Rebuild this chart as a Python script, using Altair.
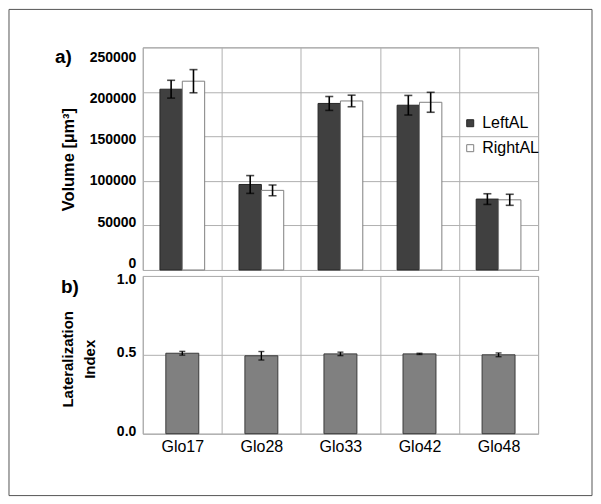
import altair as alt
import pandas as pd

glomeruli = ["Glo17", "Glo28", "Glo33", "Glo42", "Glo48"]
series = ["LeftAL", "RightAL"]
left_vol = [203000, 96000, 187000, 185000, 79600]
left_err = [10000, 10000, 7800, 11000, 6000]
right_vol = [212000, 89400, 189800, 188300, 78800]
right_err = [13000, 6000, 6500, 11200, 6200]
lat_index = [0.510, 0.494, 0.506, 0.506, 0.500]
lat_err = [0.012, 0.027, 0.011, 0.004, 0.012]
vol_ticks = [0, 50000, 100000, 150000, 200000, 250000]
li_ticks = [0.0, 0.5, 1.0]

rows = []
for i, g in enumerate(glomeruli):
    rows.append(dict(glo=g, side="LeftAL", vol=left_vol[i],
                     lo=left_vol[i] - left_err[i], hi=left_vol[i] + left_err[i]))
    rows.append(dict(glo=g, side="RightAL", vol=right_vol[i],
                     lo=right_vol[i] - right_err[i], hi=right_vol[i] + right_err[i]))
vol_df = pd.DataFrame(rows)
li_df = pd.DataFrame(dict(glo=glomeruli, li=lat_index,
                          lo=[v - e for v, e in zip(lat_index, lat_err)],
                          hi=[v + e for v, e in zip(lat_index, lat_err)]))
one = pd.DataFrame({"k": [0]})

FONT = "Liberation Sans"
GRID = "#b0b0b0"

x_top = alt.X("glo:N", sort=glomeruli, scale=alt.Scale(paddingInner=0, paddingOuter=0),
              axis=alt.Axis(labels=False, ticks=False, domain=False, title=None, grid=True,
                            tickBand="extent", gridColor=GRID))
xoff = alt.XOffset("side:N", sort=series,
                   scale=alt.Scale(domain=series, paddingInner=0, paddingOuter=0.768))
y_top = alt.Y("vol:Q", scale=alt.Scale(domain=[0, 250000], nice=False),
              axis=alt.Axis(values=vol_ticks, format="d", title="Volume [µm³]", grid=True,
                            gridColor=GRID, ticks=False, domain=False, labelPadding=7,
                            labelFontSize=14, labelFontWeight="bold", labelFont=FONT,
                            labelOffset={"expr": "-6.5 + datum.value / 250000 * 16.4"},
                            titleFontSize=16.5, titleFontWeight="bold", titleFont=FONT,
                            titleX=-74, titleY=112, titleBaseline="middle", titleAngle=270,
                            titleAlign="center"))

bars = alt.Chart(vol_df).mark_bar(strokeWidth=1).encode(
    x=x_top, xOffset=xoff, y=y_top,
    color=alt.Color("side:N", scale=alt.Scale(domain=series, range=["#404040", "#ffffff"]),
                    legend=alt.Legend(orient="none", legendX=320, legendY=68, title=None,
                                      symbolType="square", symbolSize=49, labelFontSize=16,
                                      labelFont=FONT, labelOffset=4, rowPadding=9, padding=0,
                                      symbolStrokeColor="#333333", symbolStrokeWidth=1,
                                      symbolOpacity=1)),
    stroke=alt.Stroke("side:N", scale=alt.Scale(domain=series, range=["#262626", "#808080"]),
                      legend=None),
)
err_rule = alt.Chart(vol_df).mark_rule(color="black", strokeWidth=1.6).encode(
    x=x_top, xOffset=xoff, y="lo:Q", y2="hi:Q")
cap_lo = alt.Chart(vol_df).mark_tick(color="black", thickness=1.6, size=8).encode(
    x=x_top, xOffset=xoff, y="lo:Q")
cap_hi = alt.Chart(vol_df).mark_tick(color="black", thickness=1.6, size=8).encode(
    x=x_top, xOffset=xoff, y="hi:Q")
frame = alt.Chart(one).mark_rect(fillOpacity=0, stroke="#555555", strokeWidth=1).encode(
    x=alt.value(-134), x2=alt.value(450), y=alt.value(-38), y2=alt.value(449))
label_a = alt.Chart(one).mark_text(align="left", baseline="alphabetic", fontSize=19,
                                   fontWeight="bold", font=FONT).encode(
    x=alt.value(-88), y=alt.value(16), text=alt.value("a)"))

top = alt.layer(frame, bars, err_rule, cap_lo, cap_hi, label_a).properties(width=396, height=223)

x_bot = alt.X("glo:N", sort=glomeruli, scale=alt.Scale(paddingInner=0, paddingOuter=0),
              axis=alt.Axis(labelAngle=0, ticks=False, domain=False, title=None, grid=True,
                            tickBand="extent", gridColor=GRID, labelFontSize=16, labelFont=FONT,
                            labelPadding=5, labelColor="black"))
y_bot = alt.Y("li:Q", scale=alt.Scale(domain=[0, 1], nice=False),
              axis=alt.Axis(values=li_ticks, format=".1f", title=["Lateralization", "Index"],
                            grid=True, gridColor=GRID, ticks=False, domain=False, labelPadding=7,
                            labelFontSize=14, labelFontWeight="bold", labelFont=FONT,
                            labelOffset={"expr": "datum.value == 1 ? 4 : -2"},
                            titleFontSize=15, titleFontWeight="bold", titleFont=FONT,
                            titleLineHeight=22, titleX=-75, titleY=83, titleBaseline="middle",
                            titleAngle=270, titleAlign="center"))

lbars = alt.Chart(li_df).mark_bar(color="#808080", stroke="#3a3a3a", strokeWidth=1,
                                  width=alt.RelativeBandSize(33 / 79.2)).encode(x=x_bot, y=y_bot)
lrule = alt.Chart(li_df).mark_rule(color="black", strokeWidth=1.4).encode(
    x=x_bot, y="lo:Q", y2="hi:Q")
lcap_lo = alt.Chart(li_df).mark_tick(color="black", thickness=1.4, size=6).encode(x=x_bot, y="lo:Q")
lcap_hi = alt.Chart(li_df).mark_tick(color="black", thickness=1.4, size=6).encode(x=x_bot, y="hi:Q")
label_b = alt.Chart(one).mark_text(align="left", baseline="alphabetic", fontSize=19,
                                   fontWeight="bold", font=FONT).encode(
    x=alt.value(-82), y=alt.value(17), text=alt.value("b)"))

bottom = alt.layer(lbars, lrule, lcap_lo, lcap_hi, label_b).properties(width=396, height=158)

chart = alt.vconcat(top, bottom, spacing=6, bounds="flush", padding=0).configure(
    font=FONT).configure_view(stroke="#9a9a9a", strokeWidth=1)

chart.save("out.html", embed_options={"renderer": "svg", "actions": False})
